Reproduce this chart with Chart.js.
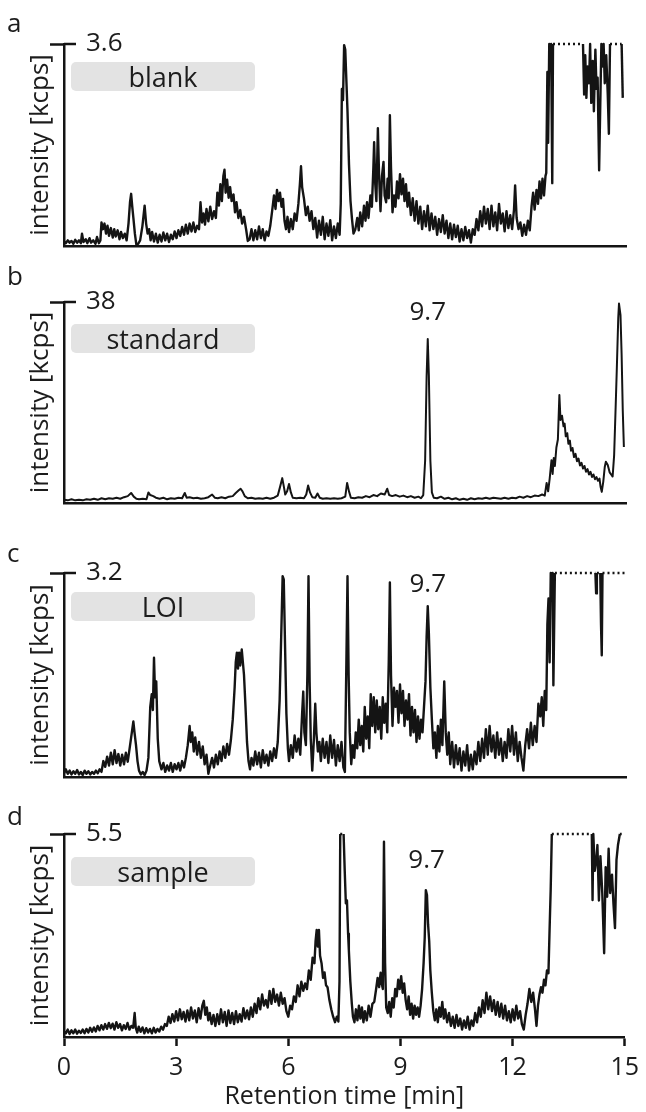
<!DOCTYPE html>
<html lang="en">
<head>
    <meta charset="UTF-8">
    <title>Chromatograms</title>
    <style>
        body { margin: 0; background: #fff; }
        .wrap { position: relative; width: 646px; height: 1112px; }
        .panel { position: absolute; left: 0; width: 646px; }
        .panel canvas { display: block; }
    </style>
    <script src="https://cdn.jsdelivr.net/npm/chart.js"></script>
</head>
<body>
<div class="wrap">
    <div class="panel" style="top:0px;height:260px"><canvas id="chart-a" width="646" height="260"></canvas></div>
    <div class="panel" style="top:260px;height:260px"><canvas id="chart-b" width="646" height="260"></canvas></div>
    <div class="panel" style="top:520px;height:265px"><canvas id="chart-c" width="646" height="265"></canvas></div>
    <div class="panel" style="top:785px;height:327px"><canvas id="chart-d" width="646" height="327"></canvas></div>
</div>
<script>
    // values: [retention time (min), intensity (kcps)]
    const panelLetters = ['a', 'b', 'c', 'd'];
    const sampleNames = ['blank', 'standard', 'LOI', 'sample'];
    const yMaxima = [3.6, 38, 3.2, 5.5];
    const peakLabels = [null, 9.7, 9.7, 9.7];
    const xTicks = [0, 3, 6, 9, 12, 15];

    const blankTrace = [
        [0,0.08],[0.05,0.05],[0.1,0.1],[0.15,0.06],[0.2,0.09],[0.25,0.04],[0.3,0.11],[0.35,0.06],[0.4,0.1],[0.45,0.05],[0.48,0.22],[0.52,0.07],[0.58,0.12],[0.62,0.05],[0.68,0.14],[0.72,0.06],[0.78,0.1],[0.84,0.04],[0.88,0.16],[0.93,0.05],[0.97,0.1],
        [1,0.42],[1.04,0.3],[1.08,0.4],[1.12,0.22],[1.16,0.36],[1.2,0.18],[1.25,0.32],[1.3,0.15],[1.34,0.3],[1.38,0.17],[1.43,0.28],[1.48,0.12],[1.52,0.25],[1.57,0.14],[1.62,0.22],[1.67,0.1],[1.72,0.4],[1.76,0.78],[1.79,0.93],[1.82,0.7],[1.85,0.5],[1.89,0.22],[1.93,0.02],[1.98,0.04],
        [2.03,0.1],[2.09,0.35],[2.15,0.72],[2.19,0.4],[2.23,0.22],[2.27,0.3],[2.31,0.1],[2.35,0.25],[2.4,0.08],[2.45,0.22],[2.5,0.06],[2.55,0.2],[2.6,0.08],[2.65,0.24],[2.7,0.1],[2.75,0.22],[2.8,0.07],[2.85,0.2],[2.9,0.12],[2.95,0.26],
        [3,0.14],[3.05,0.28],[3.1,0.18],[3.15,0.34],[3.2,0.2],[3.25,0.38],[3.3,0.22],[3.35,0.4],[3.4,0.26],[3.45,0.42],[3.5,0.25],[3.55,0.36],[3.6,0.3],[3.64,0.78],[3.68,0.42],[3.72,0.58],[3.76,0.38],[3.8,0.66],[3.85,0.44],[3.9,0.7],[3.95,0.48],
        [4,0.62],[4.05,0.5],[4.09,0.95],[4.13,0.72],[4.17,1.1],[4.21,0.8],[4.25,1.25],[4.28,1.36],[4.31,0.95],[4.35,1.18],[4.39,0.86],[4.43,1.05],[4.47,0.8],[4.52,0.92],[4.56,0.6],[4.6,0.78],[4.65,0.5],[4.7,0.64],[4.75,0.4],[4.8,0.52],[4.86,0.28],[4.9,0.09],[4.95,0.12],
        [5,0.3],[5.05,0.1],[5.1,0.28],[5.15,0.12],[5.2,0.35],[5.25,0.14],[5.3,0.3],[5.35,0.1],[5.4,0.26],[5.45,0.18],[5.5,0.36],[5.55,0.62],[5.6,0.9],[5.64,0.66],[5.68,1.0],[5.72,0.8],[5.76,0.95],[5.8,0.7],[5.84,0.84],[5.88,0.45],[5.92,0.3],[5.96,0.52],
        [6,0.25],[6.05,0.48],[6.1,0.3],[6.15,0.58],[6.2,0.45],[6.25,0.75],[6.29,1.1],[6.32,1.42],[6.35,1.05],[6.4,0.84],[6.45,0.55],[6.5,0.7],[6.55,0.45],[6.6,0.62],[6.65,0.3],[6.7,0.5],[6.75,0.15],[6.8,0.45],[6.85,0.2],[6.9,0.52],[6.95,0.12],
        [7,0.4],[7.05,0.18],[7.1,0.46],[7.15,0.1],[7.2,0.35],[7.25,0.14],[7.3,0.4],[7.35,0.2],[7.38,0.75],[7.41,2.8],[7.44,2.6],[7.47,3.58],[7.5,3.5],[7.53,2.95],[7.56,2.4],[7.6,1.45],[7.64,0.8],[7.68,0.48],[7.72,0.22],[7.77,0.3],[7.82,0.5],[7.86,0.28],[7.9,0.6],[7.95,0.35],
        [8,0.72],[8.04,0.45],[8.08,0.78],[8.12,0.5],[8.17,0.9],[8.21,0.7],[8.25,1.4],[8.27,1.85],[8.3,1.1],[8.33,0.8],[8.37,2.1],[8.4,1.3],[8.44,0.62],[8.48,1.25],[8.52,1.5],[8.55,0.9],[8.59,0.78],[8.63,1.2],[8.66,0.85],[8.69,2.33],[8.72,1.4],[8.76,0.6],[8.8,0.9],[8.84,0.7],[8.88,1.15],[8.92,0.85],[8.96,1.28],
        [9,0.92],[9.04,1.2],[9.08,0.8],[9.12,1.1],[9.16,0.7],[9.2,0.95],[9.25,0.55],[9.3,0.85],[9.35,0.45],[9.4,0.8],[9.45,0.4],[9.5,0.7],[9.55,0.3],[9.6,0.62],[9.65,0.35],[9.7,0.72],[9.75,0.28],[9.8,0.58],[9.85,0.3],[9.9,0.52],[9.95,0.2],
        [10,0.48],[10.05,0.25],[10.1,0.55],[10.15,0.22],[10.2,0.45],[10.25,0.14],[10.3,0.4],[10.35,0.12],[10.4,0.38],[10.45,0.16],[10.5,0.36],[10.55,0.08],[10.6,0.3],[10.65,0.1],[10.7,0.34],[10.75,0.14],[10.8,0.28],[10.85,0.06],[10.9,0.3],[10.95,0.2],
        [11,0.48],[11.05,0.28],[11.1,0.62],[11.15,0.35],[11.2,0.7],[11.25,0.4],[11.3,0.66],[11.35,0.3],[11.4,0.72],[11.45,0.35],[11.5,0.6],[11.55,0.28],[11.6,0.75],[11.65,0.4],[11.7,0.58],[11.75,0.26],[11.8,0.62],[11.85,0.32],[11.9,0.55],[11.95,0.3],
        [12,0.65],[12.03,1.08],[12.07,0.5],[12.12,0.3],[12.17,0.42],[12.22,0.18],[12.27,0.38],[12.32,0.2],[12.37,0.45],[12.42,0.28],[12.47,0.72],[12.51,0.95],[12.55,0.65],[12.6,1.0],[12.64,0.75],[12.68,1.15],[12.72,0.85],[12.76,1.2],[12.8,0.9],[12.84,1.25],
        [12.86,1.3],[12.89,3.1],[12.91,1.84],[12.94,3.6],[12.97,3.5],[12.99,3.6],[13.02,1.12],[13.04,3.6],[13.84,3.6],[13.87,2.7],[13.9,3.4],[13.93,2.64],[13.96,3.2],[14,2.9],[14.03,3.6],[14.06,2.55],[14.1,3.3],[14.13,2.4],[14.17,3.5],[14.2,2.8],[14.23,3.0],[14.27,1.35],[14.3,2.5],[14.33,3.6],[14.36,3.2],[14.39,3.6],[14.42,2.9],[14.46,3.4],[14.5,2.7],[14.53,2.0],[14.56,3.6],[14.87,3.6],[14.9,2.64]
    ];

    const standardTrace = [
        [0,0.6],[0.1,0.5],[0.2,0.7],[0.3,0.5],[0.4,0.6],[0.5,0.5],[0.6,0.7],[0.7,0.6],[0.8,0.8],[0.9,0.6],[1,0.9],[1.1,0.7],[1.2,0.9],[1.3,0.8],[1.4,1.0],[1.5,0.8],[1.6,1.1],[1.7,1.3],[1.79,1.9],[1.86,1.2],[1.93,0.8],
        [2,0.7],[2.1,0.8],[2.2,0.7],[2.25,2.0],[2.3,1.5],[2.38,1.3],[2.45,1.0],[2.55,0.8],[2.65,1.0],[2.75,0.7],[2.85,0.9],[2.95,0.8],[3.05,1.0],[3.15,0.9],[3.22,1.9],[3.27,1.0],[3.35,1.1],[3.45,0.9],[3.55,1.0],[3.65,0.8],[3.75,0.9],[3.85,1.1],[3.95,1.6],
        [4.02,1.0],[4.1,0.9],[4.2,1.1],[4.3,0.9],[4.4,1.2],[4.5,1.3],[4.58,1.9],[4.66,2.4],[4.71,2.7],[4.76,2.2],[4.82,1.3],[4.9,0.9],[5,1.0],[5.1,0.8],[5.2,0.9],[5.3,0.8],[5.4,1.0],[5.5,0.8],[5.6,1.0],[5.7,1.4],[5.76,3.0],[5.82,4.7],[5.86,3.2],[5.9,1.6],[5.95,2.2],
        [6,3.6],[6.05,2.0],[6.1,1.0],[6.2,0.9],[6.3,1.0],[6.4,0.9],[6.46,1.6],[6.51,3.3],[6.56,2.0],[6.62,1.1],[6.7,1.0],[6.76,1.8],[6.82,1.0],[6.9,0.8],[7,0.9],[7.1,0.8],[7.2,0.9],[7.3,0.8],[7.4,0.9],[7.5,1.2],[7.55,3.8],[7.6,2.2],[7.65,1.0],[7.75,0.9],[7.85,1.1],[7.95,1.0],
        [8.05,1.3],[8.15,1.1],[8.25,1.5],[8.35,1.3],[8.45,1.8],[8.55,1.6],[8.62,2.7],[8.67,1.5],[8.75,1.3],[8.85,1.5],[8.95,1.2],[9.05,1.4],[9.15,1.1],[9.25,1.3],[9.35,1.0],[9.45,1.2],[9.52,0.9],[9.58,1.5],[9.63,8.0],[9.67,24.0],[9.7,31.0],[9.73,24.0],[9.77,8.0],[9.81,2.0],[9.86,1.0],[9.95,0.9],
        [10.05,1.2],[10.15,0.8],[10.25,1.0],[10.35,0.7],[10.45,0.9],[10.55,0.6],[10.65,0.8],[10.75,0.6],[10.85,0.9],[10.95,0.7],[11.05,0.9],[11.15,0.8],[11.25,1.0],[11.35,0.8],[11.45,1.0],[11.55,0.9],[11.65,0.8],[11.75,1.0],[11.85,0.8],[11.95,1.0],
        [12.05,0.9],[12.15,1.2],[12.25,1.0],[12.35,1.3],[12.45,1.1],[12.55,1.4],[12.65,1.3],[12.75,1.6],[12.82,1.4],[12.87,3.8],[12.91,2.2],[12.95,4.5],[13,8.1],[13.03,5.5],[13.06,8.5],[13.09,7.0],[13.13,10.5],[13.17,12.0],[13.21,20.4],[13.24,15.7],[13.28,16.5],[13.32,14.5],[13.35,15.0],[13.38,12.6],
        [13.42,13.2],[13.45,11.2],[13.49,11.8],[13.52,9.9],[13.56,10.4],[13.6,8.7],[13.64,9.3],[13.68,7.9],[13.72,8.4],[13.76,7.1],[13.8,7.6],[13.84,6.5],[13.88,7.0],[13.92,5.9],[13.96,6.4],[14,5.4],[14.04,5.9],[14.08,4.9],[14.12,5.4],[14.16,4.5],[14.2,4.9],[14.24,4.2],[14.28,4.6],[14.31,3.0],[14.34,2.1],
        [14.38,4.0],[14.42,6.8],[14.45,7.8],[14.5,7.2],[14.55,5.8],[14.6,5.3],[14.63,5.0],[14.67,9.0],[14.71,18.0],[14.74,25.0],[14.78,35.0],[14.8,37.7],[14.84,35.5],[14.87,28.0],[14.9,17.6],[14.93,10.6]
    ];

    const loiTrace = [
        [0,0.06],[0.05,0.12],[0.1,0.05],[0.15,0.1],[0.2,0.04],[0.25,0.09],[0.3,0.05],[0.35,0.11],[0.4,0.04],[0.45,0.08],[0.5,0.03],[0.55,0.1],[0.6,0.05],[0.65,0.09],[0.7,0.04],[0.75,0.08],[0.8,0.05],[0.85,0.1],[0.9,0.06],[0.95,0.12],
        [1,0.08],[1.05,0.25],[1.1,0.16],[1.15,0.32],[1.2,0.18],[1.25,0.38],[1.3,0.2],[1.35,0.42],[1.4,0.22],[1.45,0.36],[1.5,0.18],[1.55,0.35],[1.6,0.2],[1.65,0.38],[1.7,0.24],[1.75,0.45],[1.8,0.66],[1.85,0.87],[1.88,0.7],[1.92,0.5],[1.96,0.25],
        [2,0.1],[2.05,0.04],[2.1,0.08],[2.15,0.03],[2.2,0.1],[2.25,0.3],[2.3,1.1],[2.34,1.3],[2.37,1.05],[2.4,1.87],[2.43,1.25],[2.46,1.5],[2.5,0.6],[2.54,0.25],[2.6,0.12],[2.65,0.22],[2.7,0.08],[2.75,0.18],[2.8,0.1],[2.85,0.22],[2.9,0.08],[2.95,0.2],
        [3,0.12],[3.05,0.22],[3.1,0.1],[3.15,0.25],[3.2,0.15],[3.25,0.3],[3.3,0.5],[3.35,0.8],[3.38,0.55],[3.42,0.7],[3.46,0.4],[3.5,0.62],[3.55,0.35],[3.6,0.55],[3.65,0.3],[3.7,0.48],[3.75,0.2],[3.8,0.35],[3.85,0.05],[3.9,0.18],[3.95,0.3],
        [4,0.15],[4.05,0.35],[4.1,0.2],[4.15,0.4],[4.2,0.25],[4.25,0.48],[4.3,0.3],[4.35,0.52],[4.4,0.35],[4.45,0.58],[4.5,0.9],[4.55,1.4],[4.58,1.8],[4.61,1.95],[4.64,1.7],[4.67,1.95],[4.7,1.75],[4.74,2.0],[4.77,1.8],[4.8,1.6],[4.84,1.1],[4.88,0.55],[4.92,0.25],[4.96,0.12],
        [5,0.3],[5.05,0.18],[5.1,0.4],[5.15,0.2],[5.2,0.38],[5.25,0.15],[5.3,0.42],[5.35,0.22],[5.4,0.35],[5.45,0.18],[5.5,0.4],[5.55,0.25],[5.6,0.45],[5.65,0.3],[5.7,0.55],[5.75,1.2],[5.8,2.4],[5.83,3.15],[5.86,3.1],[5.89,2.2],[5.93,1.0],[5.97,0.45],
        [6,0.25],[6.05,0.5],[6.1,0.3],[6.15,0.65],[6.2,0.4],[6.25,0.6],[6.3,0.35],[6.35,1.0],[6.38,1.34],[6.41,0.7],[6.45,0.5],[6.49,1.6],[6.52,3.15],[6.55,1.5],[6.58,0.6],[6.62,0.1],[6.66,0.55],[6.7,1.15],[6.73,0.7],[6.77,0.4],[6.81,0.55],[6.85,0.25],[6.9,0.6],[6.95,0.3],
        [7,0.55],[7.05,0.22],[7.1,0.65],[7.15,0.3],[7.2,0.58],[7.25,0.18],[7.3,0.5],[7.35,0.25],[7.4,0.55],[7.45,0.15],[7.49,0.08],[7.53,1.8],[7.56,3.15],[7.59,1.6],[7.62,0.7],[7.66,0.2],[7.7,0.5],[7.74,0.3],[7.78,0.7],[7.82,0.45],[7.86,0.9],[7.9,0.5],[7.94,0.8],[7.98,0.4],
        [8.02,1.1],[8.06,0.6],[8.1,0.95],[8.14,0.45],[8.18,1.3],[8.22,0.8],[8.26,1.25],[8.3,0.7],[8.34,1.2],[8.38,0.75],[8.42,1.1],[8.46,0.6],[8.5,1.25],[8.54,0.85],[8.58,1.15],[8.62,0.7],[8.66,1.8],[8.69,3.05],[8.72,1.6],[8.76,0.8],[8.8,1.4],[8.84,1.1],[8.88,1.35],[8.92,0.85],[8.96,1.45],
        [9,1.0],[9.04,1.35],[9.08,0.8],[9.12,1.2],[9.16,0.9],[9.2,1.3],[9.24,0.65],[9.28,1.1],[9.32,0.7],[9.36,1.05],[9.4,0.55],[9.44,0.95],[9.48,0.6],[9.52,0.9],[9.56,0.7],[9.6,1.1],[9.64,1.5],[9.67,2.2],[9.7,2.68],[9.73,2.25],[9.77,1.4],[9.81,0.9],[9.85,0.45],[9.89,0.7],[9.93,0.3],[9.97,0.8],
        [10.01,0.4],[10.05,0.9],[10.09,0.5],[10.14,1.5],[10.18,0.7],[10.22,0.35],[10.26,0.7],[10.3,0.2],[10.35,0.55],[10.4,0.15],[10.45,0.5],[10.5,0.2],[10.55,0.45],[10.6,0.1],[10.65,0.4],[10.7,0.18],[10.75,0.5],[10.8,0.1],[10.85,0.35],[10.9,0.12],[10.95,0.4],
        [11,0.2],[11.05,0.55],[11.1,0.25],[11.15,0.6],[11.2,0.3],[11.25,0.75],[11.3,0.35],[11.35,0.8],[11.4,0.4],[11.45,0.65],[11.5,0.3],[11.55,0.7],[11.6,0.35],[11.65,0.6],[11.7,0.25],[11.75,0.55],[11.8,0.3],[11.85,0.75],[11.9,0.4],[11.95,0.8],
        [12,0.35],[12.05,0.7],[12.1,0.25],[12.15,0.55],[12.2,0.3],[12.25,0.1],[12.3,0.5],[12.35,0.75],[12.4,0.45],[12.45,0.85],[12.5,0.5],[12.55,0.8],[12.6,0.55],[12.65,1.15],[12.7,0.95],[12.74,1.25],[12.78,0.8],[12.82,1.35],[12.86,1.05],[12.89,2.4],[12.92,2.8],[12.95,1.8],[12.98,3.2],[13.01,3.1],[13.03,3.2],[13.05,1.44],[13.09,3.2],
        [14.17,3.2],[14.19,2.88],[14.21,3.2],[14.3,3.2],[14.32,2.4],[14.34,1.91],[14.36,3.2],[15,3.2]
    ];

    const sampleTrace = [
        [0,0.15],[0.05,0.1],[0.1,0.2],[0.15,0.08],[0.2,0.18],[0.25,0.1],[0.3,0.2],[0.35,0.09],[0.4,0.17],[0.45,0.11],[0.5,0.2],[0.55,0.1],[0.6,0.22],[0.65,0.12],[0.7,0.25],[0.75,0.14],[0.8,0.26],[0.85,0.15],[0.9,0.3],[0.95,0.18],
        [1,0.32],[1.05,0.2],[1.1,0.35],[1.15,0.22],[1.2,0.38],[1.25,0.24],[1.3,0.36],[1.35,0.2],[1.4,0.4],[1.45,0.25],[1.5,0.35],[1.55,0.18],[1.6,0.32],[1.65,0.22],[1.7,0.38],[1.75,0.2],[1.8,0.3],[1.85,0.25],[1.89,0.65],[1.92,0.25],[1.96,0.12],
        [2,0.28],[2.05,0.14],[2.1,0.26],[2.15,0.1],[2.2,0.24],[2.25,0.12],[2.3,0.22],[2.35,0.1],[2.4,0.25],[2.45,0.12],[2.5,0.22],[2.55,0.15],[2.6,0.28],[2.65,0.2],[2.7,0.35],[2.75,0.3],[2.8,0.55],[2.85,0.38],[2.9,0.62],[2.95,0.42],
        [3,0.7],[3.05,0.45],[3.1,0.75],[3.15,0.48],[3.2,0.68],[3.25,0.42],[3.3,0.72],[3.35,0.45],[3.4,0.8],[3.45,0.5],[3.5,0.72],[3.55,0.4],[3.6,0.78],[3.65,0.5],[3.7,0.85],[3.74,0.98],[3.78,0.6],[3.82,0.8],[3.86,0.45],[3.9,0.65],[3.95,0.35],
        [4,0.6],[4.05,0.3],[4.1,0.62],[4.15,0.35],[4.2,0.75],[4.25,0.4],[4.3,0.68],[4.35,0.3],[4.4,0.72],[4.45,0.38],[4.5,0.65],[4.55,0.35],[4.6,0.7],[4.65,0.4],[4.7,0.62],[4.75,0.42],[4.8,0.78],[4.85,0.5],[4.9,0.72],[4.95,0.48],
        [5,0.8],[5.05,0.55],[5.1,0.9],[5.15,0.65],[5.2,1.05],[5.25,0.75],[5.3,1.15],[5.35,0.85],[5.4,1.0],[5.45,0.8],[5.5,1.25],[5.55,0.9],[5.6,1.3],[5.65,0.95],[5.7,1.15],[5.75,0.85],[5.8,1.2],[5.85,0.9],[5.9,1.05],[5.95,0.7],
        [6,0.55],[6.05,0.85],[6.1,0.75],[6.15,1.1],[6.2,0.95],[6.25,1.4],[6.3,1.1],[6.35,1.5],[6.4,1.25],[6.45,1.45],[6.5,1.3],[6.55,1.8],[6.6,1.55],[6.65,2.15],[6.7,2.0],[6.73,2.6],[6.76,2.9],[6.79,2.45],[6.82,2.9],[6.85,2.2],[6.89,2.0],[6.93,1.6],[6.97,1.75],
        [7.01,1.4],[7.05,1.35],[7.1,1.0],[7.15,0.75],[7.2,0.55],[7.25,0.4],[7.3,0.55],[7.34,0.42],[7.37,1.5],[7.39,5.5],[7.48,5.5],[7.51,4.5],[7.54,3.62],[7.57,3.7],[7.6,2.8],[7.62,2.36],[7.66,1.5],[7.7,0.9],[7.73,0.55],[7.77,0.4],[7.81,0.75],[7.85,0.45],[7.89,0.85],[7.93,0.5],[7.97,0.8],
        [8.01,0.4],[8.05,0.7],[8.1,0.45],[8.15,0.85],[8.2,0.55],[8.25,0.9],[8.3,0.95],[8.35,1.3],[8.39,1.6],[8.43,1.35],[8.47,1.74],[8.5,1.45],[8.53,1.3],[8.56,5.29],[8.59,2.0],[8.62,0.8],[8.66,0.65],[8.7,0.95],[8.74,0.55],[8.78,1.05],[8.82,0.8],[8.86,1.3],[8.9,1.1],[8.94,1.55],[8.98,1.3],
        [9.02,1.65],[9.06,1.2],[9.1,1.45],[9.14,1.0],[9.18,0.75],[9.22,1.1],[9.26,0.6],[9.3,0.9],[9.34,0.5],[9.38,0.85],[9.42,0.6],[9.46,0.8],[9.5,0.55],[9.54,0.85],[9.58,1.3],[9.62,2.0],[9.65,2.69],[9.68,3.98],[9.71,3.85],[9.74,3.05],[9.77,2.6],[9.8,1.8],[9.84,1.2],[9.88,0.7],[9.92,0.45],[9.96,0.75],
        [10,0.4],[10.04,0.8],[10.08,0.55],[10.12,0.95],[10.16,0.5],[10.2,0.75],[10.25,0.4],[10.3,0.65],[10.35,0.3],[10.4,0.55],[10.45,0.25],[10.5,0.6],[10.55,0.3],[10.6,0.5],[10.65,0.2],[10.7,0.45],[10.75,0.25],[10.8,0.55],[10.85,0.2],[10.9,0.45],[10.95,0.3],
        [11,0.65],[11.05,0.4],[11.1,0.8],[11.15,0.55],[11.2,1.0],[11.25,0.65],[11.3,1.2],[11.35,0.75],[11.4,1.1],[11.45,0.7],[11.5,1.0],[11.55,0.6],[11.6,0.95],[11.65,0.55],[11.7,0.9],[11.75,0.5],[11.8,0.85],[11.85,0.45],[11.9,0.7],[11.95,0.4],
        [12,0.75],[12.05,0.45],[12.1,0.85],[12.15,0.5],[12.2,0.7],[12.25,0.35],[12.3,0.2],[12.35,0.6],[12.4,0.9],[12.45,1.3],[12.5,0.95],[12.55,1.2],[12.6,0.75],[12.64,0.3],[12.68,0.85],[12.72,1.15],[12.76,1.35],[12.8,1.2],[12.84,1.55],[12.88,1.4],[12.92,1.8],[12.96,1.73],[12.99,2.9],[13.02,4.0],[13.05,5.5],
        [14.12,5.5],[14.14,3.71],[14.16,5.5],[14.2,4.5],[14.24,4.8],[14.27,5.2],[14.31,3.7],[14.35,4.9],[14.4,3.9],[14.45,2.27],[14.49,4.6],[14.53,3.8],[14.57,5.1],[14.61,3.9],[14.66,4.4],[14.7,3.6],[14.74,2.95],[14.78,4.8],[14.82,5.2],[14.87,5.5],[14.92,5.5]
    ];

    const traces = [blankTrace, standardTrace, loiTrace, sampleTrace];

    // page layout of the four stacked panels (pixels)
    const layouts = [
        { canvas: 'chart-a', padTop: 44, padBottom: 14, letterRise: 12, boxDrop: 18, peakDrop: 0, lineWidth: 2.4 },
        { canvas: 'chart-b', padTop: 42, padBottom: 17, letterRise: 17, boxDrop: 22, peakDrop: 18, lineWidth: 2.0 },
        { canvas: 'chart-c', padTop: 53, padBottom: 8, letterRise: 11, boxDrop: 19, peakDrop: 19, lineWidth: 2.4 },
        { canvas: 'chart-d', padTop: 49, padBottom: 0, letterRise: 9, boxDrop: 23, peakDrop: 34, lineWidth: 2.4 }
    ];

    const ink = '#141414';
    const textInk = '#1c1c1c';
    const family = '"Open Sans", "DejaVu Sans", sans-serif';

    // panel letter, grey sample box, peak label and right half of the top tick
    const panelDecor = {
        id: 'panelDecor',
        afterDraw(chart, args, o) {
            const ctx = chart.ctx;
            const { left, top } = chart.chartArea;
            ctx.save();
            ctx.strokeStyle = ink;
            ctx.lineWidth = 2.5;
            ctx.beginPath();
            ctx.moveTo(left, top);
            ctx.lineTo(left + 12, top);
            ctx.stroke();

            ctx.fillStyle = textInk;
            ctx.textBaseline = 'alphabetic';
            ctx.textAlign = 'left';
            ctx.font = '26px ' + family;
            ctx.fillText(o.letter, 7, top - o.letterRise);

            ctx.fillStyle = '#e3e3e3';
            ctx.beginPath();
            ctx.roundRect(left + 7, top + o.boxDrop, 184, 29, 5);
            ctx.fill();
            ctx.fillStyle = textInk;
            ctx.textAlign = 'center';
            ctx.font = '27px ' + family;
            ctx.fillText(o.label, left + 99, top + o.boxDrop + 25);

            if (o.peak !== null) {
                ctx.font = '26px ' + family;
                ctx.fillText(String(o.peak), chart.scales.x.getPixelForValue(o.peak), top + o.peakDrop);
            }
            ctx.restore();
        }
    };

    layouts.forEach((lay, i) => {
        const yMax = yMaxima[i];
        const isLast = i === layouts.length - 1;
        const points = traces[i].map(p => ({ x: p[0], y: p[1] }));
        new Chart(document.getElementById(lay.canvas), {
            type: 'line',
            data: {
                datasets: [{
                    data: points,
                    borderColor: ink,
                    borderWidth: lay.lineWidth,
                    borderJoinStyle: 'round',
                    pointRadius: 0,
                    tension: 0,
                    clip: 6,
                    segment: {
                        borderDash: c => (c.p0.parsed.y >= yMax && c.p1.parsed.y >= yMax) ? [2, 3] : undefined
                    }
                }]
            },
            options: {
                responsive: false,
                animation: false,
                events: [],
                layout: { padding: { left: 0, right: 19.5, top: lay.padTop, bottom: lay.padBottom } },
                plugins: {
                    legend: { display: false },
                    tooltip: { enabled: false },
                    panelDecor: { letter: panelLetters[i], label: sampleNames[i], peak: peakLabels[i], letterRise: lay.letterRise, boxDrop: lay.boxDrop, peakDrop: lay.peakDrop }
                },
                scales: {
                    x: {
                        type: 'linear',
                        min: 0,
                        max: 15,
                        afterBuildTicks: s => { s.ticks = xTicks.map(v => ({ value: v })); },
                        afterFit: s => { s.height = isLast ? 75 : 0; },
                        ticks: { display: isLast, padding: 7, color: textInk, font: { family: family, size: 25 }, maxRotation: 0 },
                        grid: { drawOnChartArea: false, drawTicks: isLast, tickLength: 9, tickWidth: 2.5, tickColor: ink },
                        border: { color: ink, width: 2.5 },
                        title: { display: isLast, text: 'Retention time [min]', color: textInk, font: { family: family, size: 25 }, padding: { top: 0, bottom: 0 } }
                    },
                    y: {
                        min: 0,
                        max: yMax,
                        afterBuildTicks: s => { s.ticks = [{ value: yMax }]; },
                        // mirrored label sits inside the plot, so drop the padding it asks for
                        afterFit: s => { s.width = 64; s.paddingTop = 0; s.paddingBottom = 0; },
                        ticks: { mirror: true, padding: 22, color: textInk, font: { family: family, size: 26 }, callback: v => String(v) },
                        grid: { drawOnChartArea: false, tickLength: 14, tickWidth: 2.5, tickColor: ink },
                        border: { color: ink, width: 2.5 },
                        title: { display: true, text: 'intensity [kcps]', color: textInk, font: { family: family, size: 26 }, padding: { top: 25, bottom: 0 } }
                    }
                }
            },
            plugins: [panelDecor]
        });
    });
</script>
</body>
</html>
